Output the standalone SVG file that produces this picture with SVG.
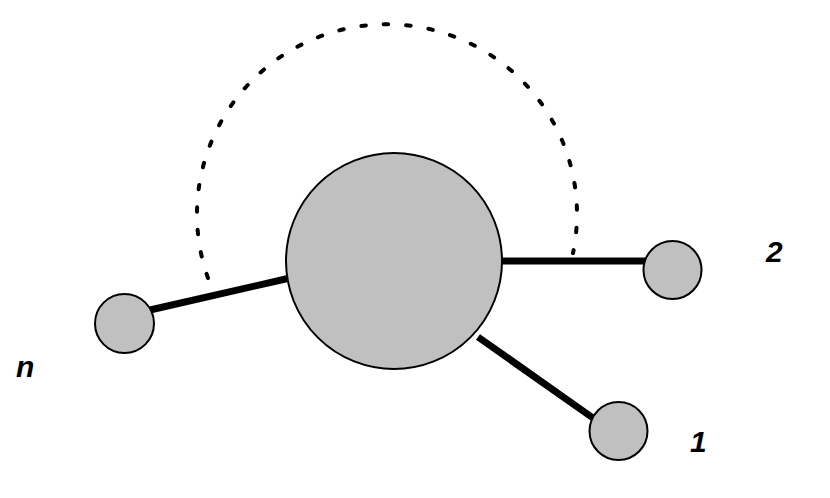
<svg xmlns="http://www.w3.org/2000/svg" width="830" height="498" viewBox="0 0 830 498">
<style>
.node{fill:#c0c0c0;stroke:#000;stroke-width:2}
.edge{stroke:#000;stroke-width:7;fill:none}
.arc{stroke:#000;stroke-width:4;fill:none;stroke-dasharray:4.5 18;stroke-linecap:round}
.lbl{font-family:"Liberation Sans",Arial,sans-serif;font-weight:bold;font-style:italic;font-size:30px;fill:#000}
</style>
<rect width="830" height="498" fill="#fff"/>
<g id="connectors">
<path class="arc" d="M208,278 A190,190 0 1 1 573,253"/>
<line class="edge" x1="150" y1="310" x2="290" y2="278"/>
<line class="edge" x1="498" y1="261" x2="647" y2="261"/>
<line class="edge" x1="478" y1="337" x2="593" y2="418"/>
</g>
<g id="center"><circle class="node" cx="394" cy="261" r="108"/></g>
<g id="node-n"><circle class="node" cx="124.5" cy="323.5" r="29.5"/><text class="lbl" x="16" y="377">n</text></g>
<g id="node-2"><circle class="node" cx="672.5" cy="270" r="29"/><text class="lbl" x="766" y="262">2</text></g>
<g id="node-1"><circle class="node" cx="618.5" cy="431" r="29"/><text class="lbl" x="690" y="452">1</text></g>
</svg>
